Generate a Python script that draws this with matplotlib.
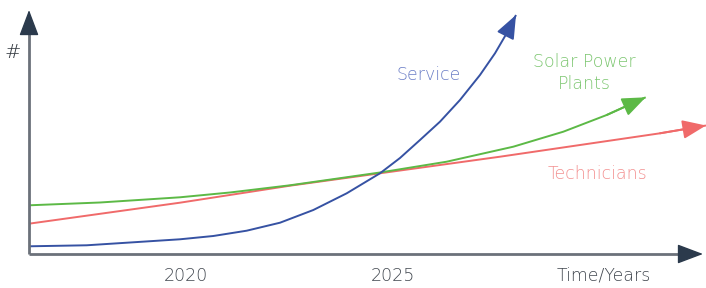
import matplotlib
matplotlib.use("Agg")
import matplotlib.pyplot as plt

# ---- data ----
service_x = [2016.208, 2017.601, 2019.855, 2020.659, 2021.466, 2022.271, 2023.075, 2023.882,
             2024.686, 2025.169, 2025.652, 2026.135, 2026.618, 2027.101, 2027.464, 2027.746, 2027.971]
service_y = [3.21, 3.63, 6.13, 7.50, 9.71, 13.04, 18.33, 25.29,
             33.63, 40.0, 47.5, 55.13, 64.17, 74.58, 83.63, 91.96, 99.58]

tech_x = [2016.208, 2019.855, 2022.512, 2024.686, 2027.585, 2031.449, 2032.560]
tech_y = [12.63, 21.38, 28.46, 33.63, 40.54, 50.29, 53.54]

solar_x = [2016.208, 2017.923, 2019.855, 2021.063, 2022.512, 2024.686, 2026.297, 2027.906,
           2029.114, 2030.162, 2031.104]
solar_y = [20.29, 21.46, 23.63, 25.63, 28.63, 33.96, 38.46, 44.71,
           50.96, 57.92, 65.29]

tick_years = [2020, 2025]
tick_labels = ["2020", "2025"]

FONT = ["DejaVu Sans"]
FS = 12.5

fig = plt.figure(figsize=(7.06, 2.88), dpi=100)
ax = fig.add_axes([0, 0, 1, 1])
px_per_year = 41.4
px_per_unit = 2.4
x0 = 2020 - 186 / px_per_year
ax.set_xlim(x0, x0 + 706 / px_per_year)
ax.set_ylim(-(288 - 254) / px_per_unit, 254 / px_per_unit)
ax.axis("off")

axis_x0 = 2016.208
axis_gray = "#6b717a"
head_navy = "#2b3a4c"

# axes shafts
x_tip = x0 + 703 / px_per_year
y_tip = (254 - 10) / px_per_unit
ax.plot([axis_x0, x_tip - 18 / px_per_year], [0, 0], color=axis_gray, lw=2, solid_capstyle="butt", zorder=3)
ax.plot([axis_x0, axis_x0], [0, y_tip - 18 / px_per_unit], color=axis_gray, lw=2, solid_capstyle="butt", zorder=3)
ax.annotate("", xy=(x_tip, 0), xytext=(-16, 0), textcoords="offset points",
            arrowprops=dict(arrowstyle="-|>,head_length=0.45,head_width=0.17", mutation_scale=36,
                            color=head_navy, lw=1, shrinkA=0, shrinkB=0), zorder=4)
ax.annotate("", xy=(axis_x0, y_tip), xytext=(0, -16), textcoords="offset points",
            arrowprops=dict(arrowstyle="-|>,head_length=0.45,head_width=0.17", mutation_scale=36,
                            color=head_navy, lw=1, shrinkA=0, shrinkB=0), zorder=4)

def curve(xs, ys, color):
    ax.plot(xs, ys, color=color, lw=1.4, zorder=2, solid_capstyle="butt", solid_joinstyle="round")
    ax.annotate("", xy=(xs[-1], ys[-1]), xytext=(xs[-2], ys[-2]),
                arrowprops=dict(arrowstyle="-|>,head_length=0.4,head_width=0.16", mutation_scale=36,
                                color=color, lw=1.4, shrinkA=0, shrinkB=0), zorder=2)

curve(tech_x, tech_y, "#f06a6a")
curve(solar_x, solar_y, "#5cb946")
curve(service_x, service_y, "#3652a3")

# labels
def px_to_data(px, py):
    return x0 + px / px_per_year, (254 - py) / px_per_unit

for yr, lab in zip(tick_years, tick_labels):
    ax.text(yr, px_to_data(0, 276)[1], lab, ha="center", va="center", fontsize=FS,
            color="#40464e", family=FONT, fontweight="light")
ax.text(*px_to_data(604, 276), "Time/Years", ha="center", va="center", fontsize=FS,
        color="#40464e", family=FONT, fontweight="light")
ax.text(*px_to_data(13, 52), "#", ha="center", va="center", fontsize=14,
        color="#333940", family=FONT, fontweight="light")
ax.text(*px_to_data(429, 75), "Service", ha="center", va="center", fontsize=FS,
        color="#6a7dc6", family=FONT, fontweight="light")
ax.text(*px_to_data(584, 73), "Solar Power\nPlants", ha="center", va="center", fontsize=FS,
        color="#7cc670", family=FONT, fontweight="light", linespacing=1.35)
ax.text(*px_to_data(598, 174), "Technicians", ha="center", va="center", fontsize=FS,
        color="#f39090", family=FONT, fontweight="light")

fig.savefig("out.png", dpi=100)
